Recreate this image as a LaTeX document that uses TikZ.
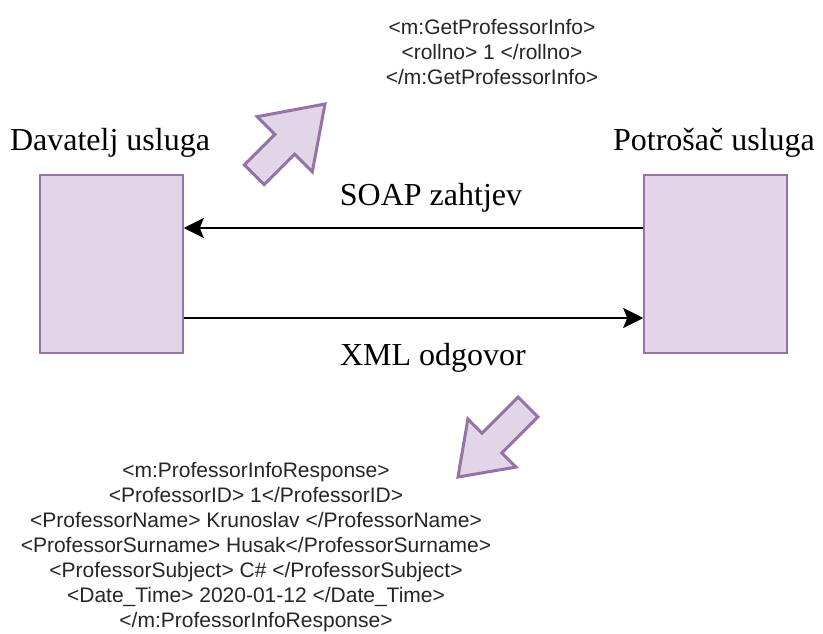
\documentclass[tikz,border=0pt]{standalone}
\usepackage{fontspec}
\setmainfont{Liberation Serif}
\newfontfamily\xsans{Liberation Sans}
\usetikzlibrary{arrows.meta}
\definecolor{pfill}{HTML}{E1D5E7}
\definecolor{pline}{HTML}{9673A6}
\begin{document}
\begin{tikzpicture}[x=1pt,y=-1pt,
  boxnode/.style={draw=pline,fill=pfill,line width=1.5pt,minimum width=143pt,minimum height=178pt,inner sep=0pt},
  bigarrow/.style={draw=pline,fill=pfill,line width=3pt,line join=miter},
  conn/.style={line width=2.6pt,-{Stealth[length=20pt,width=20pt,inset=4pt]}},
  serlabel/.style={font=\fontsize{32}{38}\selectfont,inner sep=0pt,anchor=base},
  xmltext/.style={font=\xsans\fontsize{21}{25}\selectfont,align=center,inner sep=0pt,text=black!85}]
\useasboundingbox[fill=white] (0,0) rectangle (823,633);
% boxes
\node[boxnode] (prov) at (111.5,264) {};
\node[boxnode] (cons) at (715.5,264) {};
% titles
\node[serlabel] (provlbl) at (110,150) {Davatelj usluga};
\node[serlabel] (conslbl) at (714,150) {Potrošač usluga};
% connectors
\draw[conn] ([yshift=36pt]cons.west) -- ([yshift=36pt]prov.east);
\draw[conn] ([yshift=-54pt]prov.east) -- ([yshift=-54pt]cons.west);
\node[serlabel] (soap) at (431,205) {SOAP zahtjev};
\node[serlabel] (xml) at (433,365) {XML odgovor};
% block arrows
\draw[bigarrow] (325,104) -- (257.1,116.7) -- (274.8,134.4) -- (244.4,164.8)
  -- (264.2,184.6) -- (294.6,154.2) -- (312.3,171.9) -- cycle;
\draw[bigarrow] (458,477) -- (467.9,419) -- (482,433.2) -- (518.1,397.1)
  -- (537.9,416.9) -- (501.8,453) -- (516,467.1) -- cycle;
% xml texts
\node[xmltext] (req) at (492,52) {<m:GetProfessorInfo>\\<rollno> 1 </rollno>\\</m:GetProfessorInfo>};
\node[xmltext] (resp) at (256,547.5) {<m:ProfessorInfoResponse>\\<ProfessorID> 1</ProfessorID>\\<ProfessorName> Krunoslav </ProfessorName>\\<ProfessorSurname> Husak</ProfessorSurname>\\<ProfessorSubject> C\# </ProfessorSubject>\\<Date\_Time> 2020-01-12 </Date\_Time>\\</m:ProfessorInfoResponse>};
\end{tikzpicture}
\end{document}
